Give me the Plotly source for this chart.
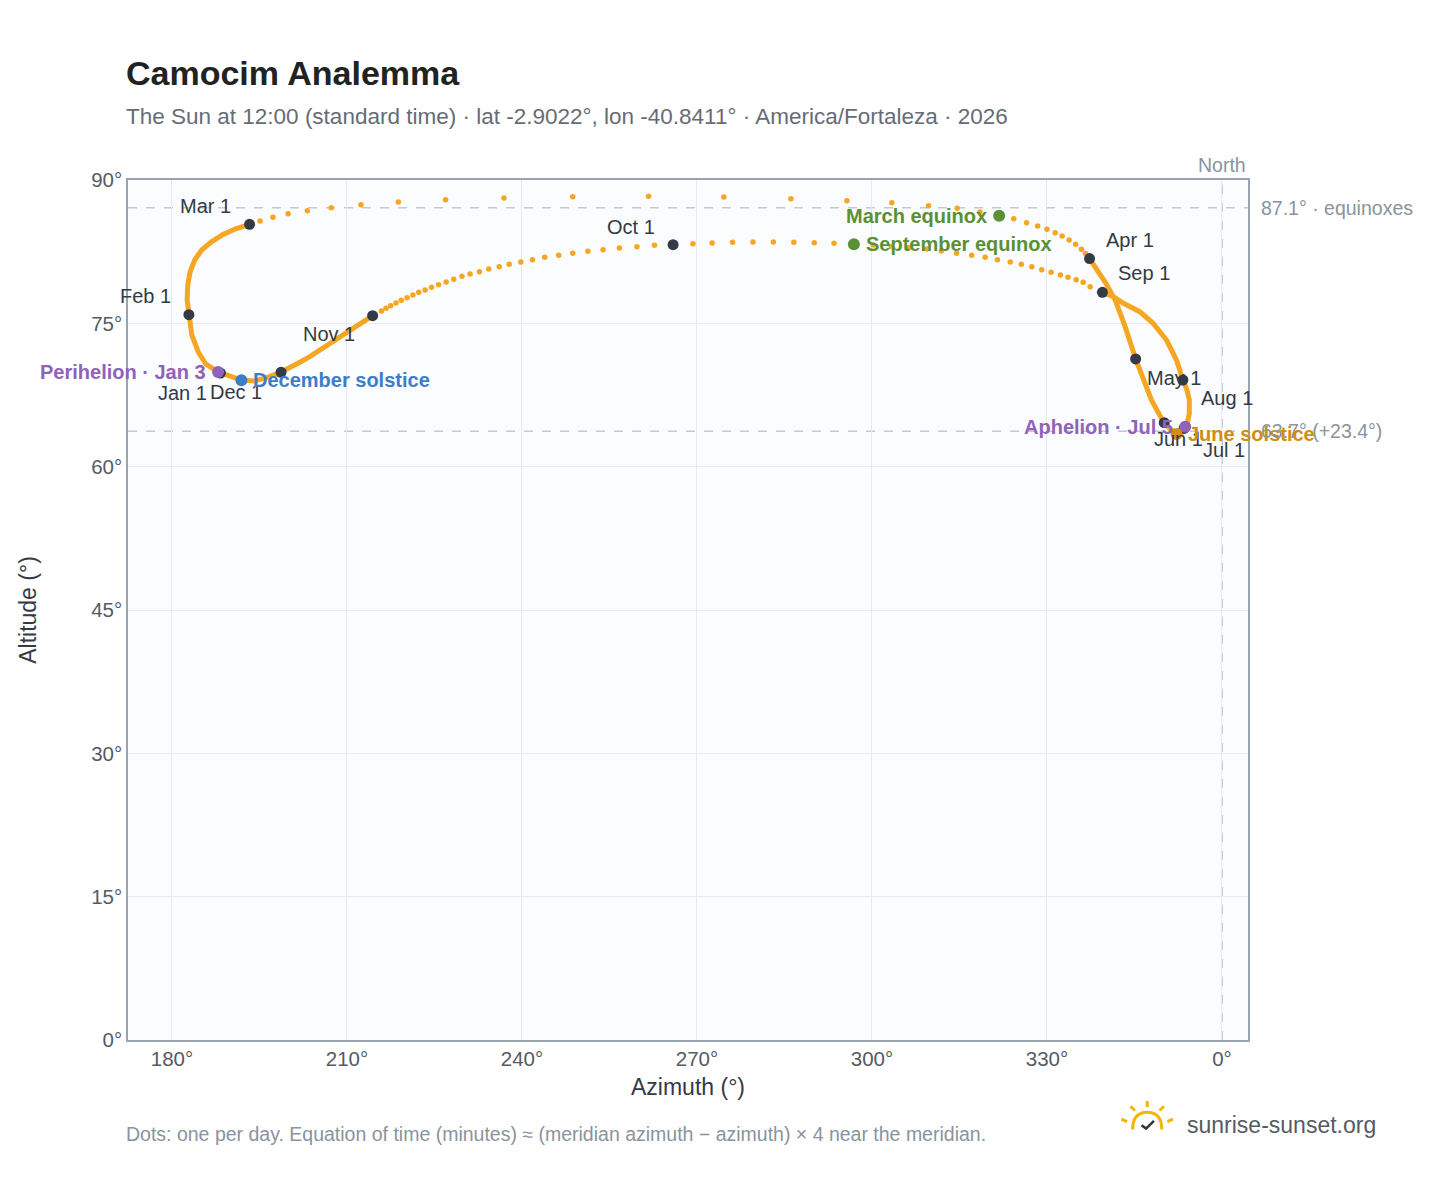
import plotly.graph_objects as go

# sparse daily dots (sun moves fast near zenith) - azimuth / altitude in degrees
mar_az = [195.1, 197.3, 199.9, 203.2, 207.3, 212.4, 218.8, 226.9, 236.9, 248.7, 261.7, 274.6,
          286.1, 295.7, 303.4, 309.7, 314.6, 318.5, 321.8, 324.3, 326.5, 328.4, 330.0, 331.4,
          332.6, 333.8, 334.9, 335.9, 336.6]
mar_alt = [85.71, 86.10, 86.47, 86.78, 87.10, 87.41, 87.69, 87.94, 88.12, 88.25, 88.29, 88.22,
           88.04, 87.83, 87.62, 87.31, 87.04, 86.65, 86.26, 85.95, 85.53, 85.18, 84.84, 84.48,
           84.14, 83.72, 83.27, 82.75, 82.31]
sep_az = [337.4, 336.2, 335.0, 333.6, 332.3, 330.7, 329.1, 327.4, 325.6, 323.7, 321.5, 319.4,
          317.1, 314.5, 311.9, 309.4, 306.3, 303.3, 300.2, 296.9, 293.5, 290.1, 286.6, 283.1,
          279.6, 276.1, 272.6, 269.3, 265.9, 262.7, 259.7, 256.7, 253.9, 251.3, 248.7, 246.3,
          243.9, 241.8, 239.8, 237.8, 236.1, 234.3, 232.7, 231.1, 229.7, 228.3, 227.0, 225.7,
          224.5, 223.4, 222.3, 221.3, 220.3, 219.3, 218.4, 217.5, 216.7, 215.9]
sep_alt = [78.84, 79.30, 79.55, 79.82, 80.06, 80.34, 80.61, 80.93, 81.18, 81.42, 81.66, 81.91,
           82.12, 82.33, 82.57, 82.78, 82.91, 83.04, 83.20, 83.27, 83.38, 83.44, 83.48, 83.51,
           83.51, 83.48, 83.41, 83.33, 83.23, 83.17, 83.02, 82.88, 82.71, 82.54, 82.33, 82.12,
           81.91, 81.66, 81.42, 81.18, 80.93, 80.69, 80.40, 80.16, 79.92, 79.61, 79.33, 79.04,
           78.77, 78.49, 78.25, 77.97, 77.68, 77.41, 77.13, 76.84, 76.57, 76.29]

# dense parts of the figure-eight (dots overlap into a line)
winter_az = [214.4, 212.3, 210.2, 207.8, 205.4, 203.7, 202.0, 200.3, 198.7, 196.5, 194.1, 191.9,
             189.6, 187.9, 185.8, 184.5, 183.4, 182.9, 182.6, 182.7, 183.1, 183.9, 185.1, 186.7,
             188.6, 190.8, 193.3]
winter_alt = [75.80, 74.95, 74.10, 73.15, 72.20, 71.55, 70.95, 70.40, 69.90, 69.38, 68.96, 69.07,
              69.49, 69.91, 70.74, 72.00, 73.78, 75.90, 77.44, 79.01, 80.37, 81.63, 82.67, 83.51,
              84.24, 84.87, 85.36]
summer_az = [337.3, 338.5, 340.1, 341.7, 343.4, 345.2, 346.5, 347.9, 349.3, 350.1, 351.1, 352.3,
             353.3, 354.0, 354.4, 354.4, 354.0, 353.3, 352.2, 350.5, 348.2, 345.9, 343.1, 341.4, 339.5]
summer_alt = [81.78, 80.76, 79.19, 77.44, 74.65, 71.27, 69.07, 66.98, 65.41, 64.60, 63.94, 63.47,
              63.63, 64.36, 65.62, 66.98, 68.03, 69.07, 71.16, 73.25, 75.00, 76.22, 77.10, 77.79, 78.25]

months = ['Jan 1', 'Feb 1', 'Mar 1', 'Apr 1', 'May 1', 'Jun 1', 'Jul 1', 'Aug 1', 'Sep 1',
          'Oct 1', 'Nov 1', 'Dec 1']
month_az = [188.3, 182.9, 193.3, 337.3, 345.2, 350.1, 353.5, 353.3, 339.5, 265.9, 214.4, 198.7]
month_alt = [69.8, 75.9, 85.36, 81.78, 71.27, 64.6, 64.0, 69.07, 78.25, 83.23, 75.8, 69.88]
month_shift = [(-38, -20), (-43, 19), (-44, 18), (40, 19), (38, -19), (14, -16), (40, -22),
               (44, -18), (42, 19), (-42, 18), (-44, -18), (-45, -20)]

events = ['Perihelion · Jan 3', 'December solstice', 'March equinox', 'September equinox',
          'Aphelion · Jul 5', 'June solstice']
event_az = [187.9, 191.9, 321.8, 296.9, 353.7, 352.2]
event_alt = [69.91, 69.05, 86.26, 83.27, 64.18, 63.42]
event_color = ['#8e63b8', '#3d7cc9', '#5b9035', '#5b9035', '#8e63b8', '#d18e10']
event_side = ['left', 'right', 'left', 'right', 'left', 'right']

ORANGE = '#f5a623'
DARK = '#343a46'

fig = go.Figure()
for xs, ys in [(winter_az, winter_alt), (summer_az, summer_alt)]:
    fig.add_trace(go.Scatter(x=xs, y=ys, mode='lines', line=dict(color=ORANGE, width=5),
                             hoverinfo='skip'))
for xs, ys in [(mar_az, mar_alt), (sep_az, sep_alt)]:
    fig.add_trace(go.Scatter(x=xs, y=ys, mode='markers', marker=dict(color=ORANGE, size=5.5),
                             hoverinfo='skip'))
fig.add_trace(go.Scatter(x=month_az, y=month_alt, mode='markers', text=months,
                         marker=dict(color=DARK, size=11)))
fig.add_trace(go.Scatter(x=event_az, y=event_alt, mode='markers', text=events,
                         marker=dict(color=event_color, size=12)))

for m, x, y, (dx, dy) in zip(months, month_az, month_alt, month_shift):
    fig.add_annotation(x=x, y=y, text=m, showarrow=False, xshift=dx, yshift=dy,
                       font=dict(size=20, color='#333a44'))
for e, x, y, c, s in zip(events, event_az, event_alt, event_color, event_side):
    fig.add_annotation(x=x, y=y, text=f'<b>{e}</b>', showarrow=False,
                       xanchor='right' if s == 'left' else 'left',
                       xshift=-10 if s == 'left' else 10, font=dict(size=20, color=c))

for lvl, lab in [(87.1, '87.1° · equinoxes'), (63.7, '63.7° (+23.4°)')]:
    fig.add_hline(y=lvl, line=dict(color='#c3cad3', width=1.5, dash='dash'), layer='below')
    fig.add_annotation(x=1.01, xref='paper', y=lvl, text=lab, showarrow=False, xanchor='left',
                       font=dict(size=19.5, color='#8a939e'))
fig.add_vline(x=360, line=dict(color='#b8c0ca', width=1.5, dash='dash'), layer='below')
fig.add_annotation(x=360, y=1.0, yref='paper', text='North', showarrow=False, yanchor='bottom',
                   yshift=2, font=dict(size=19.5, color='#8a939e'))

fig.add_annotation(x=0, xref='paper', y=1.124, yref='paper', xanchor='left', yanchor='middle',
                   text='<b>Camocim Analemma</b>', showarrow=False, font=dict(size=34, color='#222'),
                   xshift=-4)
fig.add_annotation(x=0, xref='paper', y=1.074, yref='paper', xanchor='left', yanchor='middle',
                   text='The Sun at 12:00 (standard time) · lat -2.9022°, lon -40.8411° · America/Fortaleza · 2026',
                   showarrow=False, font=dict(size=22.5, color='#666c75'), xshift=-4)
fig.add_annotation(x=0, xref='paper', y=-0.109, yref='paper', xanchor='left', yanchor='middle',
                   text='Dots: one per day. Equation of time (minutes) ≈ (meridian azimuth − azimuth) × 4 near the meridian.',
                   showarrow=False, font=dict(size=19.5, color='#8a939e'), xshift=-4)
fig.add_annotation(x=1.116, xref='paper', y=-0.099, yref='paper', xanchor='right', yanchor='middle',
                   text='sunrise-sunset.org', showarrow=False, font=dict(size=23, color='#555b63'))
# little sun logo
fig.add_shape(type='path', xref='paper', yref='paper',
              path='M 0.897 -0.104 Q 0.897 -0.084 0.910 -0.084 Q 0.923 -0.084 0.923 -0.104',
              line=dict(color='#f4b400', width=3))
fig.add_shape(type='path', xref='paper', yref='paper',
              path='M 0.905 -0.099 L 0.909 -0.103 L 0.916 -0.094', line=dict(color='#333', width=2.5))
for x0, y0, x1, y1 in [(0.910, -0.078, 0.910, -0.071), (0.899, -0.082, 0.895, -0.077),
                       (0.921, -0.082, 0.925, -0.077), (0.892, -0.095, 0.887, -0.092),
                       (0.928, -0.095, 0.933, -0.092)]:
    fig.add_shape(type='line', xref='paper', yref='paper', x0=x0, y0=y0, x1=x1, y1=y1,
                  line=dict(color='#f4b400', width=3))

fig.update_layout(
    width=1448, height=1188, showlegend=False,
    paper_bgcolor='white', plot_bgcolor='#fafcfe',
    margin=dict(l=120, r=208, t=172, b=156),
    font=dict(family='Liberation Sans, Arial, sans-serif'),
    xaxis=dict(range=[172.46, 364.46], tickvals=[180, 210, 240, 270, 300, 330, 360],
               ticktext=['180°', '210°', '240°', '270°', '300°', '330°', '0°'],
               showgrid=True, gridcolor='#e6eaf0', zeroline=False, showline=True, mirror=True,
               linecolor='#9aa4b0', linewidth=1.5, ticks='', tickfont=dict(size=20.5, color='#555b63'),
               title=dict(text='Azimuth (°)', font=dict(size=23, color='#333a44'), standoff=10)),
    yaxis=dict(range=[0, 90], tickvals=[0, 15, 30, 45, 60, 75, 90],
               ticktext=['0°', '15°', '30°', '45°', '60°', '75°', '90°'],
               showgrid=True, gridcolor='#e6eaf0', zeroline=False, showline=True, mirror=True,
               linecolor='#9aa4b0', linewidth=1.5, ticks='', tickfont=dict(size=20.5, color='#555b63'),
               title=dict(text='Altitude (°)', font=dict(size=23, color='#333a44'), standoff=48)),
)

fig.write_html('out.html')
